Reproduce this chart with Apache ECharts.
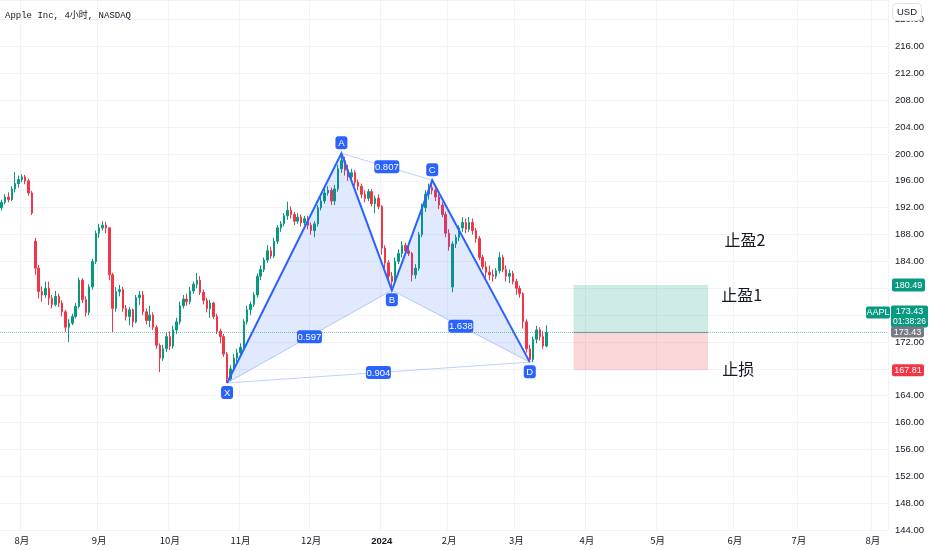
<!DOCTYPE html>
<html><head><meta charset="utf-8">
<script src="https://cdn.jsdelivr.net/npm/echarts@6/dist/echarts.min.js"></script>
<style>html,body{margin:0;padding:0;background:#fff}#c{width:932px;height:550px}</style>
</head><body><div id="c"></div>
<script>
// ---------- data ----------
const slotCount = 264; // one slot per trading day (history + future space)
const monthSlots = [6, 29, 50, 71, 92, 113, 133, 153, 174, 195, 218, 237, 259];
const monthLabels = ['8月','9月','10月','11月','12月','2024','2月','3月','4月','5月','6月','7月','8月'];
// [open, close, low, high]
const candles = [
[192.0,192.8,191.6,193.2],[192.8,193.6,192.5,194.0],[193.6,193.2,192.8,194.3],[193.2,194.8,193.0,195.2],
[194.8,195.6,194.3,197.3],[195.6,196.2,195.0,196.8],[196.2,196.6,195.8,197.0],[196.6,196.0,195.5,196.9],
[196.0,194.2,193.8,196.3],[194.2,191.2,190.9,194.5],[187.0,183.0,182.0,187.5],[183.0,179.5,178.5,183.5],
[179.5,179.0,178.0,180.3],[179.0,180.0,178.6,181.0],[180.0,178.5,177.5,181.0],[178.5,177.6,177.0,179.0],
[177.6,178.8,177.3,179.6],[178.8,177.8,177.2,179.2],[177.8,176.5,175.8,178.2],[176.5,174.2,173.5,176.8],
[174.2,174.8,172.0,175.4],[174.8,175.8,174.5,176.2],[175.8,177.3,175.5,177.8],[177.3,181.2,177.0,181.6],
[181.2,178.3,177.8,181.5],[178.3,176.4,175.8,178.8],[176.4,180.2,176.0,180.6],[180.2,184.0,179.8,184.4],
[184.0,188.2,183.6,188.6],[188.2,189.0,187.5,189.6],[189.0,189.4,188.6,190.0],[189.4,189.0,188.2,189.9],
[189.0,182.0,181.2,189.1],[182.0,177.0,173.5,182.3],[177.0,179.5,176.5,180.2],[179.5,179.8,178.8,180.5],
[179.8,177.0,176.5,180.2],[177.0,175.8,175.2,177.5],[175.8,176.8,174.5,177.2],[176.8,175.0,174.2,177.0],
[175.0,178.6,174.8,179.0],[178.6,179.0,177.5,179.6],[179.0,176.5,176.0,179.6],[176.5,175.2,174.6,177.0],
[175.2,176.0,174.2,177.4],[176.0,174.2,173.8,176.4],[174.2,171.5,171.0,174.5],[171.5,169.6,167.5,171.8],
[169.6,171.0,169.2,171.6],[171.0,172.8,170.5,173.4],[172.8,171.4,170.8,173.6],[171.4,173.8,171.0,174.4],
[173.8,175.0,173.2,175.6],[175.0,177.4,174.6,178.0],[177.4,178.4,177.0,179.0],[178.4,178.0,177.4,179.2],
[178.0,179.6,177.6,180.2],[179.6,180.6,179.2,181.0],[180.6,181.2,180.0,182.3],[181.2,179.4,179.0,181.8],
[179.4,178.2,177.6,179.8],[178.2,177.0,176.4,178.6],[177.0,177.8,175.6,178.3],[177.8,175.8,175.4,178.0],
[175.8,173.6,173.2,176.2],[173.6,172.8,171.8,174.0],[172.8,170.2,169.8,173.2],[170.2,166.5,165.9,170.5],
[166.5,168.0,166.2,168.6],[168.0,169.6,167.6,170.2],[169.6,170.4,169.0,171.0],[170.4,171.2,170.0,171.8],
[171.2,175.0,171.0,175.4],[175.0,176.8,174.6,177.4],[176.8,177.6,176.0,178.0],[177.6,179.0,177.2,179.4],
[179.0,181.8,178.6,182.2],[181.8,182.8,181.2,183.4],[182.8,184.2,182.4,184.6],[184.2,185.6,183.8,186.4],
[185.6,184.8,184.4,186.2],[184.8,187.0,184.5,187.5],[187.0,189.0,186.6,189.4],[189.0,189.6,188.4,190.0],
[189.6,190.8,189.2,191.2],[190.8,191.6,190.2,192.9],[191.6,191.0,190.4,192.2],[191.0,190.0,189.4,191.4],
[190.0,190.6,189.6,191.2],[190.6,189.8,189.2,191.0],[189.8,190.4,189.4,190.8],[190.4,189.4,188.8,190.8],
[189.4,188.6,188.0,189.8],[188.6,189.6,187.6,190.0],[189.6,192.0,189.2,192.4],[192.0,193.0,191.6,193.6],
[193.0,194.2,192.6,194.8],[194.2,194.6,193.8,195.2],[194.6,193.0,192.4,195.0],[193.0,194.8,192.4,195.4],
[194.8,197.8,194.4,198.4],[197.8,199.0,197.2,200.1],[199.0,197.6,196.8,199.6],[197.6,196.6,196.0,198.4],
[196.6,197.2,195.8,197.8],[197.2,195.8,195.2,197.6],[195.8,195.2,194.6,196.2],[195.2,194.0,193.4,195.6],
[194.0,193.4,192.8,194.6],[193.4,194.4,193.0,194.8],[194.4,192.6,192.2,194.8],[192.6,193.4,191.2,193.8],
[193.4,192.2,191.8,194.0],[192.2,186.0,185.0,192.4],[186.0,183.8,183.0,186.4],[183.8,181.8,181.2,184.2],
[181.8,181.0,179.7,182.4],[181.0,184.0,180.6,184.6],[184.0,185.2,183.6,185.8],[185.2,186.4,184.6,187.0],
[186.4,185.6,185.2,186.8],[185.6,185.2,184.8,186.2],[185.2,182.0,181.0,185.4],[182.0,183.0,181.4,183.6],
[183.0,188.0,182.6,188.4],[188.0,192.0,187.6,192.6],[192.0,194.0,191.4,194.6],[194.0,195.0,193.2,195.6],
[195.0,194.6,194.0,196.1],[194.6,193.6,193.0,195.0],[193.6,192.4,191.8,194.0],[192.4,191.0,190.6,192.8],
[191.0,188.2,187.6,191.4],[188.2,186.2,185.6,188.8],[180.2,186.6,179.4,187.0],[186.6,187.6,186.0,188.0],
[187.6,189.0,187.0,189.4],[189.0,189.8,188.4,190.6],[189.8,188.8,188.2,190.4],[188.8,189.8,188.4,190.6],
[189.8,188.6,188.0,190.4],[188.6,187.4,186.8,189.0],[187.4,184.6,184.2,187.8],[184.6,183.2,182.8,185.0],
[183.2,182.4,181.6,184.0],[182.4,182.0,181.2,183.4],[182.0,181.8,181.0,182.8],[181.8,182.6,181.4,183.0],
[182.6,184.6,182.2,185.4],[184.6,182.8,182.4,185.0],[182.8,181.8,181.0,183.4],[181.8,182.2,180.8,182.8],
[182.2,181.0,180.6,182.6],[181.0,180.0,179.0,181.4],[180.0,179.2,178.6,180.4],[179.2,175.0,174.0,179.4],
[175.0,171.0,170.4,175.4],[171.0,169.4,169.0,171.6],[169.4,172.4,169.0,172.8],[172.4,173.8,171.8,174.4],
[173.8,172.8,172.2,174.2],[172.8,171.4,171.0,173.6],[171.4,173.43,171.2,174.5]
];
// XABCD pattern
const patternNames = ['X','A','B','C','D'];
const patternSlots = [67, 101, 116, 128, 157];
const patternPrices = [165.9, 200.1, 179.7, 196.1, 169.0];
const ratioPairs = [[0,2],[1,3],[2,4],[0,4]];
const ratioLabels = ['0.597','0.807','1.638','0.904'];
// position / levels
const lastPrice = 173.43;
const takeProfit = 180.49;
const stopLoss = 167.81;
const countdown = '01:38:26';
const symbol = 'AAPL';
const boxSlots = [170, 210];
const notes = ['止盈2','止盈1','止损'];
const noteSlots = [221, 220, 219];
const notePrices = [187.2, 179.0, 168.0];
const yMin = 144, yMax = 222.94, yStep = 4;

// ---------- chart ----------
const categories = Array.from({length: slotCount}, (_, i) => i);
const monthSet = new Set(monthSlots);
const UP = '#089981', DOWN = '#f23645', TXT = '#131722', GRID = '#f0f3fa';
const NUMFONT = "'Liberation Sans Narrow','Liberation Sans',sans-serif";
const RIGHT = 44;

function labelBox(cx, cy, text, w) {
  return [
    {type:'rect', shape:{x:cx-w/2, y:cy-6.5, width:w, height:13, r:3}, style:{fill:'#2962ff'}},
    {type:'text', style:{x:cx, y:cy+0.5, text:text, fill:'#fff', font:"9.5px 'Liberation Sans',sans-serif", align:'center', verticalAlign:'middle'}}
  ];
}

function renderPattern(params, api) {
  const pts = patternSlots.map((s, i) => api.coord([s, patternPrices[i]]));
  const ch = [];
  const fill = 'rgba(41,98,255,0.14)';
  ch.push({type:'polygon', shape:{points:[pts[0],pts[1],pts[2]]}, style:{fill:fill}});
  ch.push({type:'polygon', shape:{points:[pts[2],pts[3],pts[4]]}, style:{fill:fill}});
  ratioPairs.forEach(p => ch.push({type:'line', shape:{x1:pts[p[0]][0], y1:pts[p[0]][1], x2:pts[p[1]][0], y2:pts[p[1]][1]},
    style:{stroke:'rgba(41,98,255,0.3)', lineWidth:1}}));
  ch.push({type:'polyline', shape:{points:pts}, style:{stroke:'#2962ff', lineWidth:2, fill:null}});
  ratioPairs.forEach((p, k) => {
    const cx = (pts[p[0]][0] + pts[p[1]][0]) / 2, cy = (pts[p[0]][1] + pts[p[1]][1]) / 2;
    labelBox(cx, cy, ratioLabels[k], 25).forEach(e => ch.push(e));
  });
  patternNames.forEach((n, i) => {
    const up = (i === 1 || i === 3);
    labelBox(pts[i][0], pts[i][1] + (up ? -10.5 : 9.5), n, 12).forEach(e => ch.push(e));
  });
  return {type:'group', children:ch};
}

function renderPosition(params, api) {
  const a = api.coord([boxSlots[0], takeProfit]);
  const b = api.coord([boxSlots[1], lastPrice]);
  const c = api.coord([boxSlots[0], stopLoss]);
  const ch = [
    {type:'rect', shape:{x:a[0], y:a[1], width:b[0]-a[0], height:b[1]-a[1]}, style:{fill:'rgba(8,153,129,0.2)'}},
    {type:'rect', shape:{x:a[0], y:b[1], width:b[0]-a[0], height:c[1]-b[1]}, style:{fill:'rgba(242,54,69,0.2)'}},
    {type:'line', shape:{x1:a[0], y1:b[1], x2:b[0], y2:b[1]}, style:{stroke:'rgba(120,123,160,0.8)', lineWidth:1}}
  ];
  notes.forEach((t, i) => {
    const p = api.coord([noteSlots[i], notePrices[i]]);
    ch.push({type:'text', style:{x:p[0], y:p[1], text:t, fill:TXT, font:"16px 'Noto Sans CJK SC',sans-serif", align:'center', verticalAlign:'middle'}});
  });
  return {type:'group', children:ch};
}

function tag(x, cy, w, h, fill, text) {
  return [
    {type:'rect', shape:{x:x, y:cy-h/2, width:w, height:h, r:2}, style:{fill:fill}},
    {type:'text', style:{x:x+w/2, y:cy+0.5, text:text, fill:'#fff', font:"9px " + NUMFONT, align:'center', verticalAlign:'middle'}}
  ];
}

function renderTags(params, api) {
  const ax = api.getWidth() - RIGHT;
  const yTP = api.coord([0, takeProfit])[1];
  const yL = api.coord([0, lastPrice])[1];
  const ySL = api.coord([0, stopLoss])[1];
  let ch = [];
  ch = ch.concat(tag(ax + 4, yTP, 33, 13, UP, takeProfit.toFixed(2)));
  ch = ch.concat(tag(ax - 22, yL - 20, 24, 12, UP, symbol));
  ch.push({type:'rect', shape:{x:ax + 3, y:yL - 27, width:37, height:22, r:2}, style:{fill:UP}});
  ch.push({type:'text', style:{x:ax + 21.5, y:yL - 20.5, text:lastPrice.toFixed(2), fill:'#fff', font:"9px " + NUMFONT, align:'center', verticalAlign:'middle'}});
  ch.push({type:'text', style:{x:ax + 21.5, y:yL - 10.5, text:countdown, fill:'#fff', font:"8.5px " + NUMFONT, align:'center', verticalAlign:'middle'}});
  ch = ch.concat(tag(ax + 3, yL - 0.5, 33, 11, '#787b86', lastPrice.toFixed(2)));
  ch = ch.concat(tag(ax + 4, ySL, 32, 12, DOWN, stopLoss.toFixed(2)));
  return {type:'group', children:ch};
}

const chart = echarts.init(document.getElementById('c'), null, {renderer:'canvas'});
chart.setOption({
  animation: false,
  backgroundColor: '#ffffff',
  textStyle: {fontFamily: NUMFONT},
  title: {
    text: 'Apple Inc, 4小时, NASDAQ', left: 0, top: 6,
    textStyle: {fontSize: 9, fontWeight: 'normal', color: TXT, fontFamily: "'Liberation Mono','Noto Sans CJK SC',monospace"}
  },
  grid: {left: 0, right: RIGHT, top: 0, bottom: 20, containLabel: false, outerBoundsMode: 'none'},
  xAxis: {
    type: 'category', data: categories, boundaryGap: true,
    axisLine: {show: false}, axisTick: {show: false},
    axisLabel: {
      interval: (i) => monthSet.has(i), margin: 6, fontSize: 9.5, color: TXT,
      fontFamily: "'Noto Sans CJK SC',sans-serif",
      formatter: (v, i) => { const k = monthSlots.indexOf(Number(v)); if (k < 0) return ''; const t = monthLabels[k]; return /^\d+$/.test(t) ? '{b|' + t + '}' : t; },
      rich: {b: {fontWeight: 'bold', fontSize: 9.5, color: TXT, fontFamily: "'Liberation Sans',sans-serif"}}
    },
    splitLine: {show: true, interval: (i) => monthSet.has(i), lineStyle: {color: GRID, width: 1}}
  },
  yAxis: {
    type: 'value', position: 'right', min: yMin, max: yMax, interval: yStep, scale: true,
    axisLine: {show: false}, axisTick: {show: false},
    axisLabel: {formatter: (v) => v.toFixed(2), showMaxLabel: false, margin: 7, fontSize: 9.5, color: TXT, fontFamily: NUMFONT},
    splitLine: {show: true, lineStyle: {color: GRID, width: 1}}
  },
  series: [
    {
      type: 'candlestick', data: candles, barWidth: 2, z: 2,
      itemStyle: {color: UP, color0: DOWN, borderColor: UP, borderColor0: DOWN, borderWidth: 1},
      markLine: {
        silent: true, symbol: ['none','none'], label: {show: false},
        lineStyle: {type: 'dotted', color: 'rgba(8,153,129,0.55)', width: 1},
        data: [{yAxis: lastPrice}]
      }
    },
    {type: 'custom', renderItem: renderPosition, data: [[0, lastPrice]], z: 3, silent: true, clip: false},
    {type: 'custom', renderItem: renderPattern, data: [[0, lastPrice]], z: 4, silent: true, clip: false},
    {type: 'custom', renderItem: renderTags, data: [[0, lastPrice]], z: 10, silent: true, clip: false}
  ],
  graphic: [
    {type: 'rect', right: 10, top: 3, z: 100, shape: {width: 29, height: 17, r: 4}, style: {fill: '#fff', stroke: '#e0e3eb', lineWidth: 1}},
    {type: 'text', right: 15, top: 7, z: 101, style: {text: 'USD', fill: TXT, font: "9.5px 'Liberation Sans',sans-serif"}}
  ]
});
</script>
</body></html>
